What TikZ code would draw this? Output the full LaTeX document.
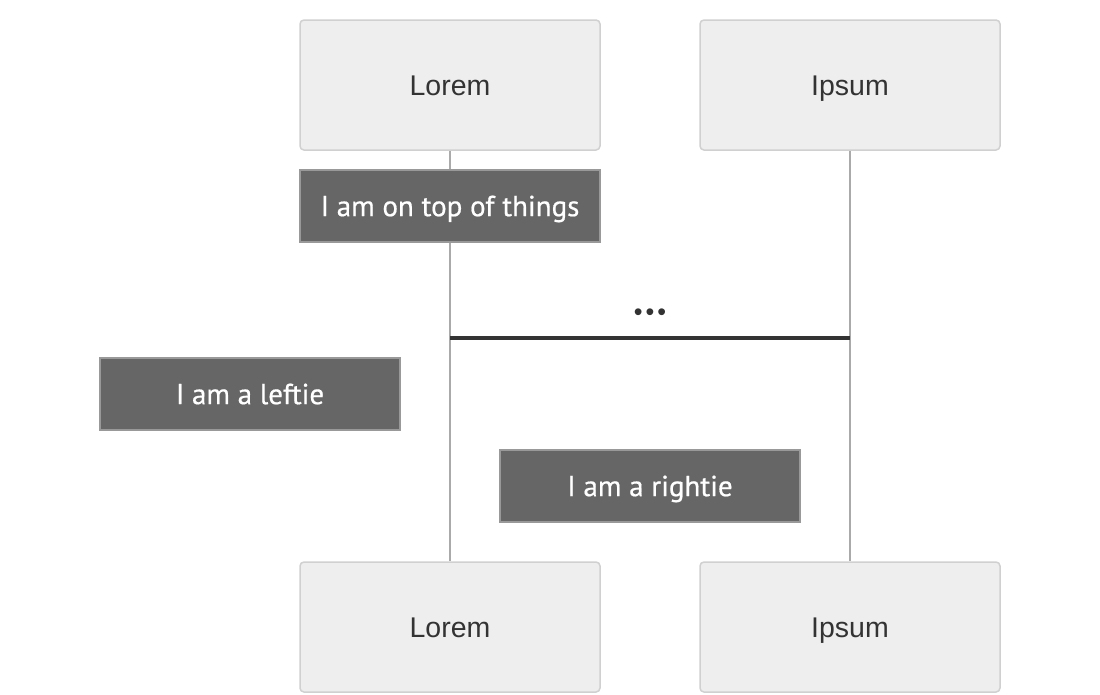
\documentclass[tikz,border=0pt]{standalone}
\usepackage{fontspec}
\setmainfont{Liberation Sans}
\newfontfamily\notefont[FakeBold=0.6]{PT Sans}
\begin{document}
\begin{tikzpicture}[x=1pt,y=-1pt,
  actorbox/.style={draw=actorline,fill=actorfill,line width=1.5pt,rounded corners=4pt,minimum width=300pt,minimum height=130pt,inner sep=0pt,font=\fontsize{28.5}{32}\selectfont,text=textcol,text height=20.4pt,text depth=0pt},
  notebox/.style={draw=notedraw,fill=notefill,line width=1.5pt,minimum width=300pt,minimum height=72pt,inner sep=0pt,font=\notefont\fontsize{29}{32}\selectfont,text=white,text height=20.3pt,text depth=0pt},
  lifeline/.style={draw=lifecol,line width=1.2pt},
  divider/.style={draw=divcol,line width=3.2pt}]
\definecolor{actorfill}{HTML}{EEEEEE}
\definecolor{actorline}{HTML}{D0D0D0}
\definecolor{notefill}{HTML}{666666}
\definecolor{notedraw}{HTML}{999999}
\definecolor{lifecol}{HTML}{AAAAAA}
\definecolor{divcol}{HTML}{333333}
\definecolor{textcol}{HTML}{333333}
\useasboundingbox (0,0) rectangle (1100,694);
\node[actorbox] (lt) at (450,85) {Lorem};
\node[actorbox] (it) at (850,85) {Ipsum};
\node[actorbox] (lb) at (450,627) {Lorem};
\node[actorbox] (ib) at (850,627) {Ipsum};
\draw[lifeline] (lt.south) -- (lb.north);
\draw[lifeline] (it.south) -- (ib.north);
\node[notebox] (n1) at (450,206) {I am on top of things};
\node[notebox] (n2) at (250,394) {I am a leftie};
\node[notebox] (n3) at (650,486) {I am a rightie};
\coordinate (dl) at (450,338);
\coordinate (dr) at (850,338);
\draw[divider] (dl) -- (dr);
\node[text=textcol,font=\fontsize{25}{28}\selectfont,inner sep=0pt] (dots) at (650,315) {•\kern3pt•\kern3pt•};
\end{tikzpicture}
\end{document}
